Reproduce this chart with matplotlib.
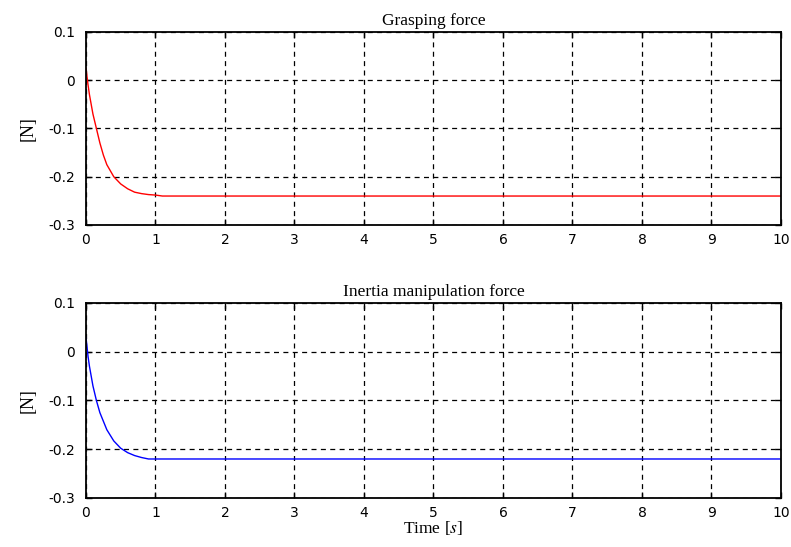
import numpy as np
import matplotlib
matplotlib.use("Agg")
import matplotlib.pyplot as plt

plt.rcParams['mathtext.fontset'] = 'stix'

# Values
t_grasp = [0, 0.03, 0.05, 0.1, 0.15, 0.2, 0.25, 0.3, 0.4, 0.5, 0.6, 0.7, 0.8, 0.9, 1.0, 1.1, 10]
f_grasp = [0.025, -0.01, -0.03, -0.07, -0.1, -0.13, -0.155, -0.175, -0.2, -0.215,
           -0.225, -0.232, -0.235, -0.237, -0.238, -0.24, -0.24]

t_inertia = [0, 0.03, 0.05, 0.1, 0.15, 0.2, 0.3, 0.4, 0.5, 0.6, 0.7, 0.8, 0.9, 1.0, 10]
f_inertia = [0.03, -0.01, -0.03, -0.07, -0.1, -0.125, -0.16, -0.183, -0.198, -0.207,
             -0.213, -0.217, -0.22, -0.22, -0.22]

titles = ["Grasping force", "Inertia manipulation force"]
xticks = list(range(0, 11))
yticks = [-0.3, -0.2, -0.1, 0, 0.1]
ytick_labels = ["-0.3", "-0.2", "-0.1", "0", "0.1"]

fig = plt.figure(figsize=(7.91, 5.47), dpi=100)
ax1 = fig.add_axes([0.1087, 0.5887, 0.8786, 0.3528])
ax2 = fig.add_axes([0.1087, 0.0896, 0.8786, 0.3565])

serif = "Liberation Serif"

for ax, t, f, col, title in [(ax1, t_grasp, f_grasp, "red", titles[0]),
                             (ax2, t_inertia, f_inertia, "blue", titles[1])]:
    ax.plot(t, f, color=col, linewidth=1.0)
    ax.set_xlim(0, 10)
    ax.set_ylim(-0.3, 0.1)
    ax.set_xticks(xticks)
    ax.set_yticks(yticks)
    ax.set_yticklabels(ytick_labels)
    ax.grid(True, color="black", linestyle=(0, (4, 3.5)), linewidth=0.9)
    ax.tick_params(direction="in", top=True, right=True, length=4, width=1,
                   labelsize=10)
    ax.tick_params(axis="y", pad=8)
    ax.tick_params(axis="x", pad=6)
    for s in ax.spines.values():
        s.set_linewidth(1.3)
    ax.set_title(title, fontsize=12.5, family=serif, pad=5)
    ax.set_ylabel("[N]", fontsize=13, family=serif, labelpad=8)

ax2.set_xlabel("Time [$s$]", fontsize=12.5, family=serif, labelpad=-1)

fig.savefig("out.png", dpi=100)
